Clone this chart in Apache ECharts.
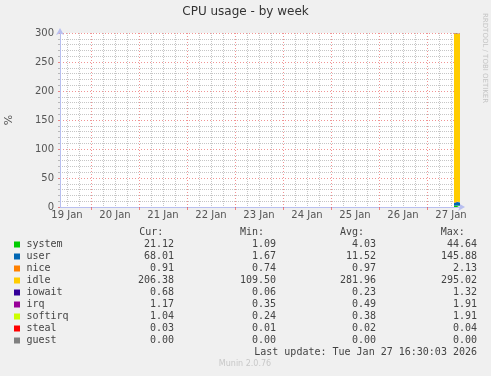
<!DOCTYPE html>
<html><head><meta charset="utf-8">
<script src="https://cdn.jsdelivr.net/npm/echarts@6/dist/echarts.min.js"></script>
<style>html,body{margin:0;padding:0;background:#f0f0f0;}#c{width:491px;height:376px;}</style>
</head><body><div id="c"></div>
<script>
// ---- data ----
const title = 'CPU usage - by week';
const times = ['2026-01-27 13:30','2026-01-27 14:00','2026-01-27 14:30','2026-01-27 15:00','2026-01-27 15:30','2026-01-27 16:00','2026-01-27 16:30'];
const system  = [2.1, 2.4, 2.3, 2.6, 2.2, 2.5, 2.4];
const user    = [4.8, 5.5, 5.1, 6.0, 5.2, 5.6, 5.4];
const nice    = [1.0, 0.9, 1.0, 1.0, 0.9, 1.0, 0.9];
const idle    = [290.8, 289.9, 290.4, 289.2, 290.5, 289.7, 290.1];
const iowait  = [0.2, 0.3, 0.2, 0.2, 0.2, 0.3, 0.2];
const irq     = [0.5, 0.5, 0.4, 0.5, 0.5, 0.5, 0.5];
const softirq = [0.4, 0.4, 0.3, 0.4, 0.4, 0.4, 0.4];
const steal   = [0.02, 0.02, 0.02, 0.02, 0.02, 0.02, 0.02];
const guest   = [0, 0, 0, 0, 0, 0, 0];
const seriesNames = ['system','user','nice','idle','iowait','irq','softirq','steal','guest'];
const seriesColors = ['#00cc00','#0066b3','#ff8000','#ffcc00','#330099','#990099','#ccff00','#ff0000','#808080'];
const curVals = ['21.12','68.01','0.91','206.38','0.68','1.17','1.04','0.03','0.00'];
const minVals = ['1.09','1.67','0.74','109.50','0.06','0.35','0.24','0.01','0.00'];
const avgVals = ['4.03','11.52','0.97','281.96','0.23','0.49','0.38','0.02','0.00'];
const maxVals = ['44.64','145.88','2.13','295.02','1.32','1.91','1.91','0.04','0.00'];
const rangeStartDay = 19, rangeStartHour = 8.5, rangeHours = 200, stepHours = 0.5; // 2026-01-19 08:30 .. 2026-01-27 16:30
const lastUpdate = 'Last update: Tue Jan 27 16:30:03 2026';
const footer = 'Munin 2.0.76';
const sideText = 'RRDTOOL / TOBI OETIKER';

// ---- build ----
const pad = n => String(n).padStart(2, '0');
const categories = [];
for (let i = 0; i <= rangeHours / stepHours; i++) {
  const h = rangeStartHour + i * stepHours;
  const day = rangeStartDay + Math.floor(h / 24);
  const hh = Math.floor(h % 24), mm = Math.round((h % 1) * 60);
  categories.push('2026-01-' + pad(day) + ' ' + pad(hh) + ':' + pad(mm));
}
const hourOf = c => +c.slice(11, 13) + (+c.slice(14, 16)) / 60;
const isMinor = c => hourOf(c) % 6 === 0 && hourOf(c) !== 0;
const isMajor = c => hourOf(c) === 0;
const isNoon = c => hourOf(c) === 12;
const values = [system,user,nice,idle,iowait,irq,softirq,steal,guest];
const mono = '"DejaVu Sans Mono", monospace';
const sans = '"DejaVu Sans", sans-serif';

const series = seriesNames.map((n,i) => ({
  name: n, type: 'line', stack: 'cpu', symbol: 'none', z: 3,
  lineStyle: {width: 0}, itemStyle: {color: seriesColors[i]},
  areaStyle: {color: seriesColors[i], opacity: 1},
  data: categories.map(c => { const k = times.indexOf(c); return k < 0 ? null : values[i][k]; })
}));

const g = [];
g.push({type:'text', left:'center', top:6, style:{text:title, font:'12px '+sans, fill:'#333'}});
g.push({type:'text', x:488, y:13, rotation:-Math.PI/2, style:{text:sideText, font:'7px '+sans, fill:'#c4c4c4', textAlign:'left', textVerticalAlign:'top'}});
g.push({type:'text', x:9, y:120, rotation:Math.PI/2, style:{text:'%', font:'11px '+sans, fill:'#555', textAlign:'center', textVerticalAlign:'middle'}});
const hdrX = [139.3, 240, 340, 440.7];
['Cur:','Min:','Avg:','Max:'].forEach((h,i) => g.push({type:'text', x:hdrX[i], y:232, style:{text:h, font:'10px '+mono, fill:'#444', textAlign:'left', textVerticalAlign:'middle'}}));
const colR = [174, 276, 376, 477];
const cols = [curVals, minVals, avgVals, maxVals];
seriesNames.forEach((n,i) => {
  const y = 244.5 + i*12;
  g.push({type:'rect', shape:{x:14, y:y-3, width:6, height:6}, style:{fill:seriesColors[i]}});
  g.push({type:'text', x:26.5, y:y, style:{text:n, font:'10px '+mono, fill:'#444', textAlign:'left', textVerticalAlign:'middle'}});
  cols.forEach((c,j) => g.push({type:'text', x:colR[j], y:y, style:{text:c[i], font:'10px '+mono, fill:'#444', textAlign:'right', textVerticalAlign:'middle'}}));
});
g.push({type:'text', x:477, y:352.5, style:{text:lastUpdate, font:'10px '+mono, fill:'#444', textAlign:'right', textVerticalAlign:'middle'}});
g.push({type:'text', x:245, y:364, style:{text:footer, font:'8px '+sans, fill:'#c8c8c8', textAlign:'center', textVerticalAlign:'middle'}});

const chart = echarts.init(document.getElementById('c'), null, {renderer:'canvas'});
chart.setOption({
  animation: false,
  backgroundColor: '#f0f0f0',
  grid: {left:60, right:31, top:33, bottom:169, show:true, backgroundColor:'#ffffff', borderWidth:0},
  xAxis: [{
    type: 'category', data: categories, boundaryGap: false,
    axisLine: {show:true, onZero:false, lineStyle:{color:'#b8bff0', width:1}, symbol:['none','arrow'], symbolSize:[6,7], symbolOffset:[0,5]},
    axisTick: {show:true, interval: (i, c) => isMajor(c), length:3, lineStyle:{color:'rgba(230,60,60,0.6)'}},
    axisLabel: {interval: (i, c) => isNoon(c), formatter: c => (+c.slice(8, 10)) + ' Jan', color:'#555', fontFamily: sans, fontSize:10, margin:3, hideOverlap:false},
    splitLine: {show:true, interval: (i, c) => isMinor(c), lineStyle:{color:'rgba(128,128,128,0.45)', type:[1,1], width:1}}
  }, {
    type: 'category', data: categories, boundaryGap: false, position: 'bottom',
    axisLine: {show:false}, axisTick: {show:false}, axisLabel: {show:false},
    splitLine: {show:true, interval: (i, c) => isMajor(c), lineStyle:{color:'rgba(230,60,60,0.55)', type:[1,2], width:1}}
  }],
  yAxis: {
    type: 'value', min: 0, max: 300, interval: 50,
    axisLine: {show:true, lineStyle:{color:'#b8bff0', width:1}, symbol:['none','arrow'], symbolSize:[6,7], symbolOffset:[0,5]},
    axisTick: {show:true, length:2, lineStyle:{color:'rgba(230,60,60,0.6)'}},
    minorTick: {show:true, splitNumber:5, length:2, lineStyle:{color:'rgba(128,128,128,0.5)'}},
    axisLabel: {color:'#555', fontFamily: sans, fontSize:10, margin:6},
    splitLine: {show:true, lineStyle:{color:'rgba(230,60,60,0.55)', type:[1,2], width:1}},
    minorSplitLine: {show:true, lineStyle:{color:'rgba(128,128,128,0.45)', type:[1,1], width:1}}
  },
  graphic: g,
  series: series
});
</script></body></html>
